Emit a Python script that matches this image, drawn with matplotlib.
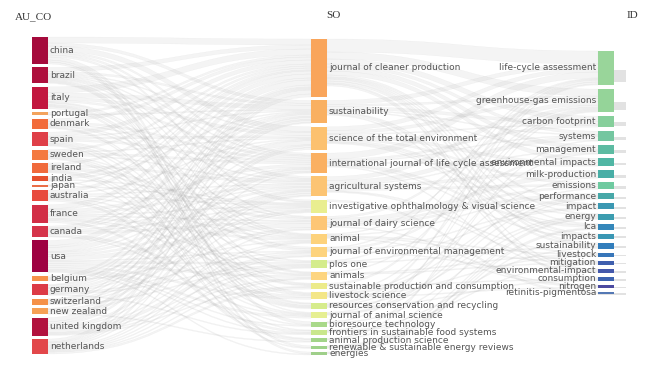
import matplotlib
matplotlib.use('Agg')
import matplotlib.pyplot as plt
from matplotlib.path import Path
from matplotlib.patches import PathPatch, Rectangle

# three fields: author countries -> sources -> keywords plus
countries = ['china', 'brazil', 'italy', 'portugal', 'denmark', 'spain', 'sweden',
             'ireland', 'india', 'japan', 'australia', 'france', 'canada', 'usa',
             'belgium', 'germany', 'switzerland', 'new zealand', 'united kingdom',
             'netherlands']
journals = ['journal of cleaner production', 'sustainability',
            'science of the total environment',
            'international journal of life cycle assessment',
            'agricultural systems', 'investigative ophthalmology & visual science',
            'journal of dairy science', 'animal',
            'journal of environmental management', 'plos one', 'animals',
            'sustainable production and consumption', 'livestock science',
            'resources conservation and recycling', 'journal of animal science',
            'bioresource technology', 'frontiers in sustainable food systems',
            'animal production science', 'renewable & sustainable energy reviews',
            'energies']
keywords = ['life-cycle assessment', 'greenhouse-gas emissions', 'carbon footprint',
            'systems', 'management', 'environmental impacts', 'milk-production',
            'emissions', 'performance', 'impact', 'energy', 'lca', 'impacts',
            'sustainability', 'livestock', 'mitigation', 'environmental-impact',
            'consumption', 'nitrogen', 'retinitis-pigmentosa']

# links country -> {journal index: weight}
au_so = {
    'china': {0: 6, 1: 3, 2: 5, 3: 2, 4: 2, 5: 2, 15: 3, 18: 2, 19: 2},
    'brazil': {0: 4, 1: 2, 2: 1, 3: 1, 4: 1, 5: 1, 6: 1, 7: 1, 10: 1, 12: 1, 13: 1, 14: 1},
    'italy': {0: 6, 1: 4, 2: 3, 3: 2, 7: 1, 8: 2, 10: 1, 11: 1, 13: 2},
    'portugal': {0: 2, 1: 1},
    'denmark': {0: 3, 3: 2, 4: 1, 6: 1, 7: 1, 12: 1, 13: 1},
    'spain': {0: 4, 1: 1, 2: 2, 3: 2, 8: 2, 11: 1, 13: 1, 18: 1},
    'sweden': {0: 2, 2: 1, 3: 2, 4: 1, 9: 1, 11: 1, 13: 1, 16: 1},
    'ireland': {0: 2, 4: 2, 6: 2, 7: 1, 12: 1, 14: 1, 17: 1},
    'india': {0: 2, 1: 1, 5: 1, 15: 1},
    'japan': {0: 1, 5: 1},
    'australia': {0: 3, 2: 1, 4: 1, 5: 1, 7: 1, 10: 1, 14: 1, 17: 2},
    'france': {0: 4, 1: 1, 3: 3, 4: 2, 5: 1, 6: 1, 7: 2, 9: 1, 10: 1, 16: 2},
    'canada': {0: 2, 1: 1, 2: 1, 4: 1, 5: 1, 6: 2, 12: 2, 14: 1},
    'usa': {0: 5, 1: 2, 2: 4, 3: 1, 4: 2, 5: 2, 6: 4, 8: 1, 9: 2, 10: 2, 12: 2,
            14: 2, 15: 1, 16: 1, 19: 1},
    'belgium': {0: 2, 1: 1, 3: 1, 7: 1},
    'germany': {0: 1, 1: 2, 2: 1, 3: 2, 4: 1, 5: 1, 8: 1, 9: 1, 16: 1},
    'switzerland': {0: 1, 1: 1, 3: 1, 4: 1, 5: 1, 9: 1},
    'new zealand': {0: 1, 4: 2, 6: 2, 17: 1},
    'united kingdom': {0: 4, 1: 2, 2: 2, 4: 2, 5: 1, 7: 1, 8: 3, 9: 1, 10: 1, 11: 1},
    'netherlands': {0: 3, 1: 1, 2: 2, 3: 1, 4: 1, 6: 1, 7: 1, 8: 1, 9: 1, 10: 1, 11: 2},
}

# links journal index -> {keyword index: weight}
so_id = {
    0: {0: 13, 1: 7, 2: 5, 3: 3, 4: 4, 5: 4, 9: 2, 10: 1, 11: 1, 12: 2, 13: 2, 16: 1, 17: 2},
    1: {0: 4, 1: 2, 2: 3, 3: 1, 4: 1, 12: 1, 13: 2, 16: 1},
    2: {0: 4, 1: 3, 2: 1, 5: 3, 7: 2, 9: 2, 10: 1, 11: 1},
    3: {0: 6, 2: 2, 3: 1, 5: 1, 11: 2, 12: 1, 16: 1},
    4: {1: 4, 3: 4, 4: 1, 6: 3, 7: 2, 14: 1, 15: 1},
    5: {19: 2},
    6: {1: 2, 6: 4, 7: 2, 8: 2, 18: 1},
    7: {1: 1, 8: 1, 14: 1, 15: 1, 18: 1},
    8: {0: 1, 4: 2, 9: 1, 16: 1},
    9: {0: 1, 9: 1, 13: 1},
    10: {1: 1, 14: 1, 15: 1},
    11: {0: 2, 17: 1},
    12: {1: 1, 6: 1, 8: 1, 14: 1, 18: 1},
    13: {0: 2, 4: 1, 10: 1, 17: 1},
    14: {1: 1, 7: 1, 8: 1},
    15: {0: 1, 10: 1},
    16: {3: 1, 13: 1, 15: 1},
    17: {1: 1, 8: 1},
    18: {10: 1, 11: 1, 12: 1},
    19: {10: 1, 11: 1},
}

country_colors = ['#a50a3c', '#ae0f3d', '#c2173f', '#f3a35d', '#f26b3a', '#df3f48',
                  '#f47a40', '#f06a3c', '#e6502e', '#ea6e48', '#e84a3e', '#d22e46',
                  '#d5344a', '#9e0142', '#f6924a', '#dc3b46', '#f59148', '#f6a055',
                  '#b2123e', '#e2474a']
journal_colors = ['#f9a55b', '#f9b061', '#fcc16f', '#fab062', '#fcc473', '#e9ee90',
                  '#fdc676', '#fdd27c', '#fdd37e', '#d4ec8c', '#fdd580', '#eceb8a',
                  '#f3e688', '#d6ec8c', '#e6ef92', '#a9d98a', '#c9e78c', '#a2d489',
                  '#9ed28a', '#9fcf8a']
keyword_colors = ['#99d59a', '#95d499', '#86cf9b', '#74c6a0', '#5dbba2', '#50b6a4',
                  '#48aea6', '#6ecaa0', '#47a8a8', '#3b98b2', '#3c9db0', '#3487ba',
                  '#3a97b4', '#327ebc', '#3776b9', '#3f5fae', '#4458ab', '#3d63b0',
                  '#4c4aa0', '#5478b4']

# node values from the links
left_links = []
for ci, c in enumerate(countries):
    for j, w in sorted(au_so[c].items()):
        left_links.append([ci, j, w])
right_links = []
for j in range(len(journals)):
    for k, w in sorted(so_id[j].items()):
        right_links.append([j, k, w])

left_val = [sum(l[2] for l in left_links if l[0] == i) for i in range(len(countries))]
mid_in = [sum(l[2] for l in left_links if l[1] == i) for i in range(len(journals))]
mid_out = [sum(l[2] for l in right_links if l[0] == i) for i in range(len(journals))]
mid_val = [max(a, b) for a, b in zip(mid_in, mid_out)]
right_val = [sum(l[2] for l in right_links if l[1] == i) for i in range(len(keywords))]

W, H = 646, 373
fig = plt.figure(figsize=(W / 100, H / 100), dpi=100)
ax = fig.add_axes([0, 0, 1, 1])
ax.set_xlim(0, W)
ax.set_ylim(H, 0)
ax.axis('off')

node_w = 16
col_x = [32, 311, 598]
col_span = [(37, 354), (39, 355), (51, 294)]


def stack(vals, top, bottom):
    gap = (bottom - top - sum(vals)) / (len(vals) - 1)
    ys, y = [], top
    for v in vals:
        ys.append(y)
        y += v + gap
    return ys


left_y = stack(left_val, *col_span[0])
mid_y = stack(mid_val, *col_span[1])
right_y = stack(right_val, *col_span[2])


def band(x0, y0, x1, y1, w):
    xm = (x0 + x1) / 2
    verts = [(x0, y0), (xm, y0), (xm, y1), (x1, y1),
             (x1, y1 + w), (xm, y1 + w), (xm, y0 + w), (x0, y0 + w), (x0, y0)]
    codes = [Path.MOVETO, Path.CURVE4, Path.CURVE4, Path.CURVE4,
             Path.LINETO, Path.CURVE4, Path.CURVE4, Path.CURVE4, Path.CLOSEPOLY]
    return PathPatch(Path(verts, codes), facecolor='#b8b8b8', edgecolor='#a0a0a0',
                     lw=0.2, alpha=0.15, zorder=1)


def draw_links(links, src_y, tgt_y, n_src, n_tgt, xs, xt):
    s_off = list(src_y)
    t_off = list(tgt_y)
    # source side ordered by target, target side ordered by source
    s_pos, t_pos = {}, {}
    for i in range(n_src):
        for l in sorted([l for l in links if l[0] == i], key=lambda l: l[1]):
            s_pos[id(l)] = s_off[i]
            s_off[i] += l[2]
    for k in range(n_tgt):
        for l in sorted([l for l in links if l[1] == k], key=lambda l: l[0]):
            t_pos[id(l)] = t_off[k]
            t_off[k] += l[2]
    for l in links:
        ax.add_patch(band(xs, s_pos[id(l)], xt, t_pos[id(l)], l[2]))


draw_links(left_links, left_y, mid_y, len(countries), len(journals),
           col_x[0] + node_w, col_x[1])
draw_links(right_links, mid_y, right_y, len(journals), len(keywords),
           col_x[1] + node_w, col_x[2])

label_kw = dict(fontsize=6.5, color='#555555', va='center', zorder=4)

for i, c in enumerate(countries):
    ax.add_patch(Rectangle((col_x[0], left_y[i]), node_w, left_val[i],
                           facecolor=country_colors[i], edgecolor='none', zorder=3))
    ax.text(col_x[0] + node_w + 2, left_y[i] + left_val[i] / 2, c, ha='left', **label_kw)

for i, j in enumerate(journals):
    ax.add_patch(Rectangle((col_x[1], mid_y[i]), node_w, mid_val[i],
                           facecolor=journal_colors[i], edgecolor='none', zorder=3))
    ax.text(col_x[1] + node_w + 2, mid_y[i] + mid_val[i] / 2, j, ha='left', **label_kw)

for i, k in enumerate(keywords):
    # faint stub to the right of each keyword node
    ax.add_patch(Rectangle((col_x[2], right_y[i] + right_val[i] * 0.55), 28,
                           max(right_val[i] * 0.35, 1.5),
                           facecolor='#e2e2e2', edgecolor='none', zorder=2))
    ax.add_patch(Rectangle((col_x[2], right_y[i]), node_w, right_val[i],
                           facecolor=keyword_colors[i], edgecolor='none', zorder=3))
    ax.text(col_x[2] - 2, right_y[i] + right_val[i] / 2, k, ha='right', **label_kw)

head_kw = dict(fontsize=8, color='#333333', family='Liberation Serif', va='center')
ax.text(15, 17, 'AU_CO', ha='left', **head_kw)
ax.text(333, 16, 'SO', ha='center', **head_kw)
ax.text(632, 16, 'ID', ha='center', **head_kw)

fig.savefig('out.png', dpi=100, facecolor='white')
